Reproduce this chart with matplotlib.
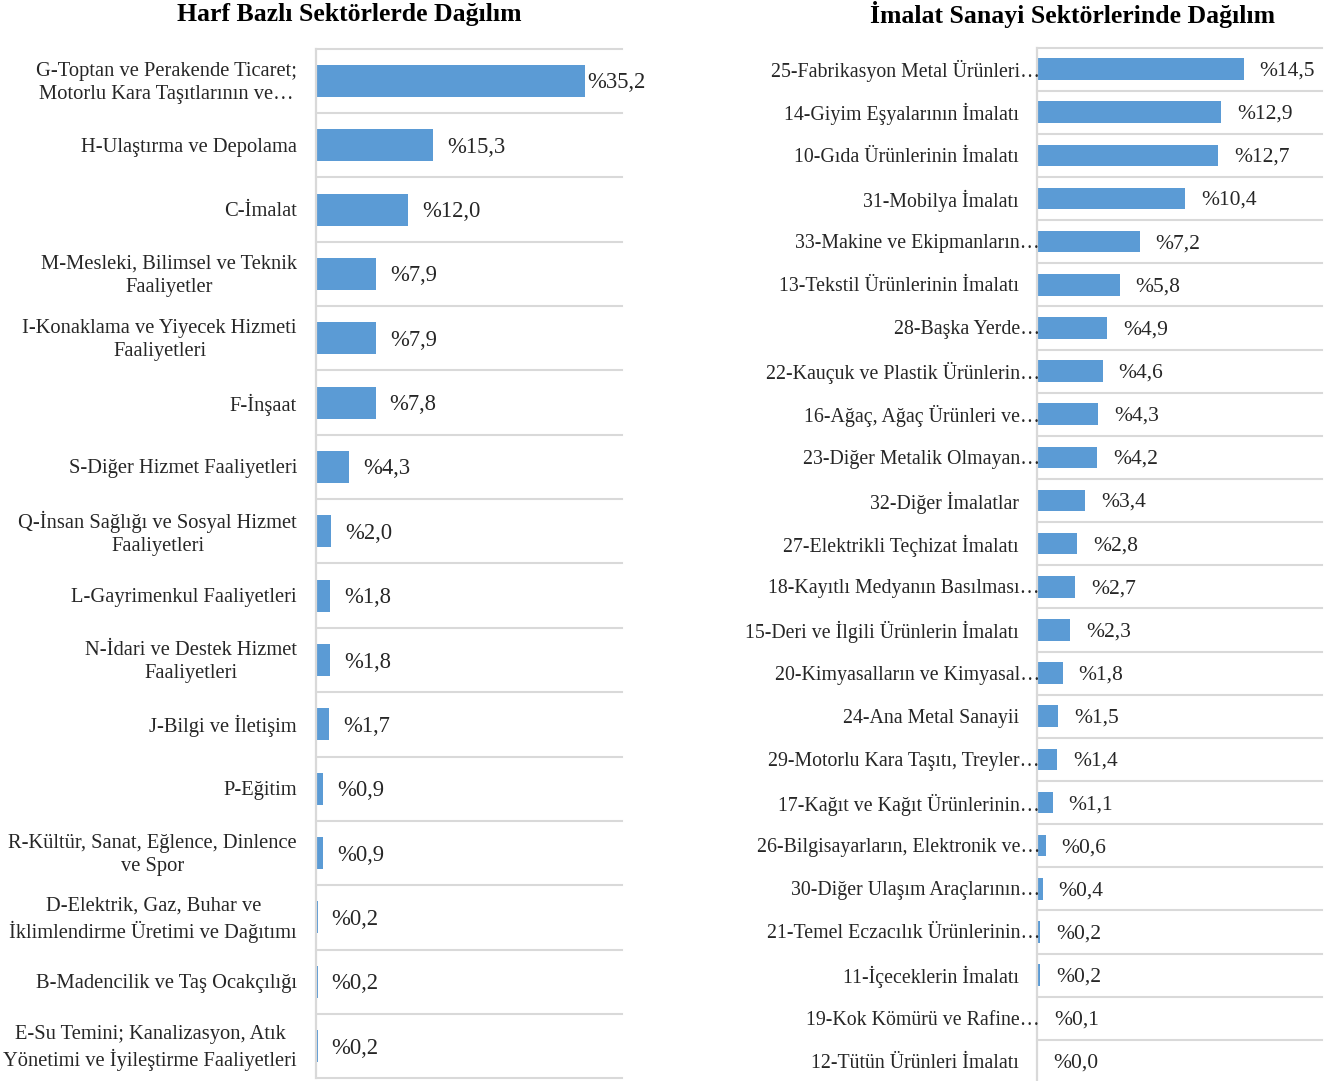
import matplotlib
matplotlib.use("Agg")
import matplotlib.pyplot as plt
import matplotlib.transforms as mtransforms

left_title = "Harf Bazlı Sektörlerde Dağılım"
left_labels = [
    "G-Toptan ve Perakende Ticaret;\nMotorlu Kara Taşıtlarının ve…",
    "H-Ulaştırma ve Depolama",
    "C-İmalat",
    "M-Mesleki, Bilimsel ve Teknik\nFaaliyetler",
    "I-Konaklama ve Yiyecek Hizmeti\nFaaliyetleri",
    "F-İnşaat",
    "S-Diğer Hizmet Faaliyetleri",
    "Q-İnsan Sağlığı ve Sosyal Hizmet\nFaaliyetleri",
    "L-Gayrimenkul Faaliyetleri",
    "N-İdari ve Destek Hizmet\nFaaliyetleri",
    "J-Bilgi ve İletişim",
    "P-Eğitim",
    "R-Kültür, Sanat, Eğlence, Dinlence\nve Spor",
    "D-Elektrik, Gaz, Buhar ve\nİklimlendirme Üretimi ve Dağıtımı",
    "B-Madencilik ve Taş Ocakçılığı",
    "E-Su Temini; Kanalizasyon, Atık\nYönetimi ve İyileştirme Faaliyetleri",
]
left_values = [35.2, 15.3, 12.0, 7.9, 7.9, 7.8, 4.3, 2.0, 1.8, 1.8, 1.7, 0.9, 0.9, 0.2, 0.2, 0.2]

right_title = "İmalat Sanayi Sektörlerinde Dağılım"
right_labels = [
    "25-Fabrikasyon Metal Ürünleri…",
    "14-Giyim Eşyalarının İmalatı",
    "10-Gıda Ürünlerinin İmalatı",
    "31-Mobilya İmalatı",
    "33-Makine ve Ekipmanların…",
    "13-Tekstil Ürünlerinin İmalatı",
    "28-Başka Yerde…",
    "22-Kauçuk ve Plastik Ürünlerin…",
    "16-Ağaç, Ağaç Ürünleri ve…",
    "23-Diğer Metalik Olmayan…",
    "32-Diğer İmalatlar",
    "27-Elektrikli Teçhizat İmalatı",
    "18-Kayıtlı Medyanın Basılması…",
    "15-Deri ve İlgili Ürünlerin İmalatı",
    "20-Kimyasalların ve Kimyasal…",
    "24-Ana Metal Sanayii",
    "29-Motorlu Kara Taşıtı, Treyler…",
    "17-Kağıt ve Kağıt Ürünlerinin…",
    "26-Bilgisayarların, Elektronik ve…",
    "30-Diğer Ulaşım Araçlarının…",
    "21-Temel Eczacılık Ürünlerinin…",
    "11-İçeceklerin İmalatı",
    "19-Kok Kömürü ve Rafine…",
    "12-Tütün Ürünleri İmalatı",
]
right_values = [14.5, 12.9, 12.7, 10.4, 7.2, 5.8, 4.9, 4.6, 4.3, 4.2, 3.4, 2.8, 2.7, 2.3,
                1.8, 1.5, 1.4, 1.1, 0.6, 0.4, 0.2, 0.2, 0.1, 0.04]

BAR = "#5B9BD5"
GRID = "#D9D9D9"
TXT = "#262626"
FONT = ["Liberation Serif", "DejaVu Serif"]

plt.rcParams["font.family"] = FONT

fig = plt.figure(figsize=(13.35, 10.81), dpi=100)
W, H = 1335, 1081
DY = -2  # small downward nudge of text, px


def panel(rect, labels, values, xmax, lab_pad_px, val_pad_px, fs, vfs, trunc_shift_px):
    ax = fig.add_axes(rect)
    n = len(values)
    y = list(range(n))
    ax.barh(y, values, height=0.5, color=BAR, zorder=2)
    ax.set_xlim(0, xmax)
    ax.set_ylim(n - 0.5, -0.5)
    ax.set_xticks([])
    ax.set_yticks([])
    for s in ["top", "right", "bottom"]:
        ax.spines[s].set_visible(False)
    ax.spines["left"].set_color(GRID)
    ax.spines["left"].set_linewidth(1.6)
    for i in range(n + 1):
        ax.axhline(i - 0.5, color=GRID, lw=1.5, clip_on=False, zorder=1)
    blend = mtransforms.blended_transform_factory(ax.transAxes, ax.transData)
    for i, (lab, v) in enumerate(zip(labels, values)):
        shift = trunc_shift_px if lab.endswith("…") and "\n" not in lab else 0
        tr = blend + mtransforms.ScaledTranslation((-lab_pad_px + shift) / 100, DY / 100,
                                                   fig.dpi_scale_trans)
        ax.text(0, i, lab, transform=tr, ha="right", va="center", multialignment="center",
                fontsize=fs, color=TXT, linespacing=1.3)
        txt = "%" + f"{v:.1f}".replace(".", ",")
        pad = val_pad_px[i] if isinstance(val_pad_px, list) else val_pad_px
        vt = ax.transData + mtransforms.ScaledTranslation(pad / 100, DY / 100, fig.dpi_scale_trans)
        ax.text(v, i, txt, transform=vt, ha="left", va="center", fontsize=vfs, color=TXT,
                clip_on=False)
    return ax


left_pads = [2] + [14] * (len(left_values) - 1)
panel([316 / W, 1 - 1078.2 / H, 306 / W, (1078.2 - 48.8) / H], left_labels, left_values, 40,
      19, left_pads, 14.8, 16.3, 5)
panel([1037 / W, 1 - 1083 / H, 285 / W, (1083 - 47.5) / H], right_labels, right_values, 20,
      18, 16, 14.3, 15.5, 21)

fig.text(349 / W, 1 - 14 / H, left_title, ha="center", va="center", fontsize=18.5,
         fontweight="bold", color="black")
fig.text(1072 / W, 1 - 14 / H, right_title, ha="center", va="center", fontsize=18.5,
         fontweight="bold", color="black")

fig.savefig("out.png", dpi=100)
